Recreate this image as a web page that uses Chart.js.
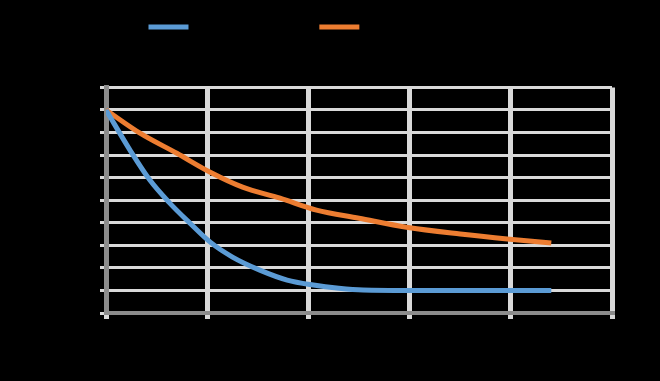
<!DOCTYPE html>
<html>
<head>
<meta charset="utf-8">
<script src="https://cdn.jsdelivr.net/npm/chart.js@4/dist/chart.umd.min.js"></script>
<style>
  html, body { margin: 0; padding: 0; background: #000; }
  canvas { display: block; }
</style>
</head>
<body>
<canvas id="myChart" width="660" height="381"></canvas>
<script>
  // values (x = time, y = temperature)
  let seriesNames = ['Without insulation, °C', 'With insulation, °C'];
  let blueX = [0, 2.4, 4.35, 6.3, 8.3, 10.3, 12.5, 15.2, 17.9, 20.5, 23, 25.4, 30, 35, 40, 44];
  let blueY = [90, 72, 58.8, 48.7, 39.8, 31.4, 24.8, 19, 14.6, 12.4, 11, 10.2, 10, 10, 10, 10];
  let orangeX = [0, 3.4, 7, 10.3, 13.5, 17.2, 20.8, 25, 29.7, 35, 39.9, 44];
  let orangeY = [90, 79.6, 70.8, 62.4, 55.8, 50.9, 45.6, 42, 38, 35, 32.7, 31];
  let xTicks = [0, 10, 20, 30, 40, 50];
  let yTicks = [0, 10, 20, 30, 40, 50, 60, 70, 80, 90, 100];

  function toPoints(xs, ys) {
    let pts = [];
    for (let i = 0; i < xs.length; i++) {
      pts.push({x: xs[i], y: ys[i]});
    }
    return pts;
  }

  let ctx = document.getElementById('myChart').getContext('2d');
  let chart = new Chart(ctx, {
    type: 'line',
    data: {
      datasets: [{
        label: seriesNames[0],
        data: toPoints(blueX, blueY),
        borderColor: '#5B9BD5',
        backgroundColor: '#5B9BD5',
        borderWidth: 5,
        pointRadius: 0,
        cubicInterpolationMode: 'monotone'
      }, {
        label: seriesNames[1],
        data: toPoints(orangeX, orangeY),
        borderColor: '#ED7D31',
        backgroundColor: '#ED7D31',
        borderWidth: 5,
        pointRadius: 0,
        cubicInterpolationMode: 'monotone'
      }]
    },
    options: {
      responsive: false,
      animation: false,
      layout: { padding: { left: 0, right: 48, top: 11, bottom: 0 } },
      plugins: {
        legend: {
          position: 'top',
          labels: {
            color: '#000',
            font: { size: 12, family: 'Liberation Sans' },
            boxWidth: 40,
            boxHeight: 5,
            padding: 10,
            generateLabels: function (c) {
              let items = Chart.defaults.plugins.legend.labels.generateLabels(c);
              items.forEach(it => { it.lineWidth = 0; });
              return items;
            }
          }
        },
        subtitle: {
          display: true,
          text: ' ',
          weight: 500,
          color: '#000',
          font: { size: 12 },
          padding: { top: 0, bottom: 30 }
        },
        tooltip: { enabled: false }
      },
      scales: {
        x: {
          type: 'linear',
          min: 0,
          max: 50,
          afterBuildTicks: axis => { axis.ticks = xTicks.map(v => ({value: v})); },
          afterFit: axis => { axis.height = 68; },
          ticks: { color: '#000', font: { size: 12 } },
          grid: { color: '#d9d9d9', lineWidth: 5, tickLength: 6 },
          border: { color: '#8c8c8c', width: 4 },
          title: { display: true, text: 'Time, min', color: '#000' }
        },
        y: {
          min: 0,
          max: 100,
          afterBuildTicks: axis => { axis.ticks = yTicks.map(v => ({value: v})); },
          afterFit: axis => { axis.width = 106; },
          ticks: { color: '#000', font: { size: 12 } },
          grid: { color: '#d9d9d9', lineWidth: 3, tickLength: 6 },
          border: { color: '#8c8c8c', width: 5 },
          title: { display: true, text: 'Temperature, °C', color: '#000' }
        }
      }
    }
  });
</script>
</body>
</html>
